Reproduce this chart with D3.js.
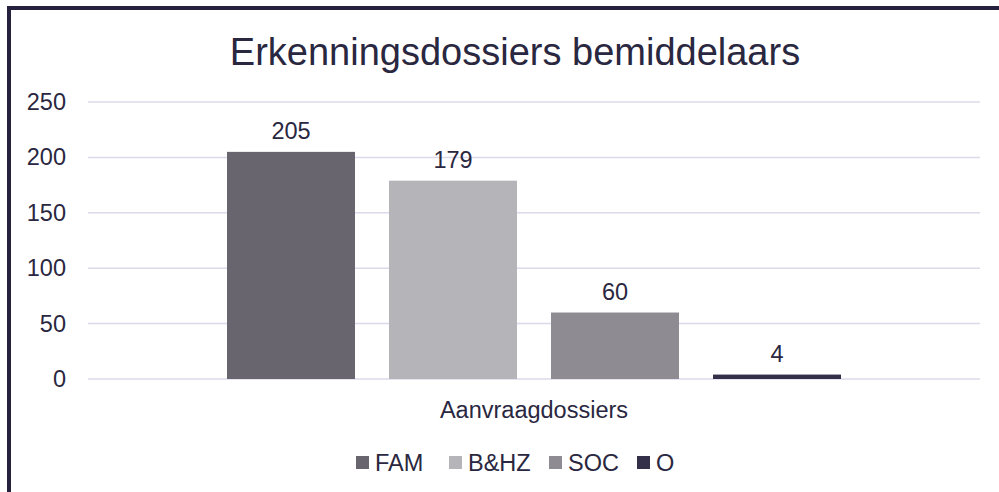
<!DOCTYPE html>
<html>
<head>
<meta charset="utf-8">
<script src="https://cdn.jsdelivr.net/npm/d3@7"></script>
<style>
    body { margin: 0; background: #fff; }
    svg { display: block; font-family: "Liberation Sans", Arial, sans-serif; }
</style>
</head>
<body>
<svg id="chart" width="999" height="492"></svg>
<script>
const categories = ["Aanvraagdossiers"];
const series = ["FAM", "B&HZ", "SOC", "O"];
const values = [205, 179, 60, 4];
const yTicks = [0, 50, 100, 150, 200, 250];
const colors = ["#68656f", "#b5b4b9", "#8e8c92", "#34304a"];

const textColor = "#2a2740";
const svg = d3.select("#chart");

// frame
svg.append("rect")
    .attr("x", 9).attr("y", 8)
    .attr("width", 1100).attr("height", 600)
    .attr("fill", "none")
    .attr("stroke", "#25213f")
    .attr("stroke-width", 4);

svg.append("text")
    .attr("x", 515).attr("y", 65)
    .attr("text-anchor", "middle")
    .attr("font-size", 38)
    .attr("fill", textColor)
    .text("Erkenningsdossiers bemiddelaars");

const margin = { left: 88, right: 19, top: 102, bottom: 113 };
const width = 999 - margin.left - margin.right;
const height = 492 - margin.top - margin.bottom;

const g = svg.append("g").attr("transform", `translate(${margin.left},${margin.top})`);

const y = d3.scaleLinear().domain([0, 250]).range([height, 0]);
const x0 = d3.scaleBand().domain(categories).range([0, width]).paddingInner(0).paddingOuter(0.2264);
const x1 = d3.scaleBand().domain(series).range([0, x0.bandwidth()]).paddingInner(0.21).paddingOuter(0);

// gridlines
g.append("g")
    .selectAll("line")
    .data(yTicks)
    .join("line")
    .attr("x1", 0).attr("x2", width)
    .attr("y1", d => y(d)).attr("y2", d => y(d))
    .attr("stroke", "#dcdaea")
    .attr("stroke-width", 1.5);

// y axis labels
const yAxis = g.append("g")
    .call(d3.axisLeft(y).tickValues(yTicks).tickSize(0).tickPadding(22));
yAxis.select(".domain").remove();
yAxis.selectAll("text")
    .attr("font-size", 23.5)
    .attr("fill", textColor)
    .attr("font-family", "Liberation Sans, Arial, sans-serif");

const data = series.map((s, i) => ({ series: s, value: values[i], color: colors[i] }));

const grp = g.append("g").attr("transform", `translate(${x0(categories[0])},0)`);

grp.selectAll("rect")
    .data(data)
    .join("rect")
    .attr("x", d => x1(d.series))
    .attr("y", d => y(d.value))
    .attr("width", x1.bandwidth())
    .attr("height", d => height - y(d.value))
    .attr("fill", d => d.color);

grp.selectAll("text.val")
    .data(data)
    .join("text")
    .attr("class", "val")
    .attr("x", d => x1(d.series) + x1.bandwidth() / 2)
    .attr("y", d => y(d.value) - 13)
    .attr("text-anchor", "middle")
    .attr("font-size", 23.5)
    .attr("fill", textColor)
    .text(d => d.value);

// category axis label
g.append("text")
    .attr("x", x0(categories[0]) + x0.bandwidth() / 2)
    .attr("y", height + 39)
    .attr("text-anchor", "middle")
    .attr("font-size", 23.5)
    .attr("fill", textColor)
    .text(categories[0]);

// legend
const legendX = [356, 449, 549, 637];
const legend = svg.append("g").attr("transform", "translate(0,456)");
const item = legend.selectAll("g")
    .data(data)
    .join("g")
    .attr("transform", (d, i) => `translate(${legendX[i]},0)`);
item.append("rect")
    .attr("width", 13).attr("height", 13)
    .attr("fill", d => d.color);
item.append("text")
    .attr("x", 19).attr("y", 15)
    .attr("font-size", 23.5)
    .attr("fill", textColor)
    .text(d => d.series);
</script>
</body>
</html>
